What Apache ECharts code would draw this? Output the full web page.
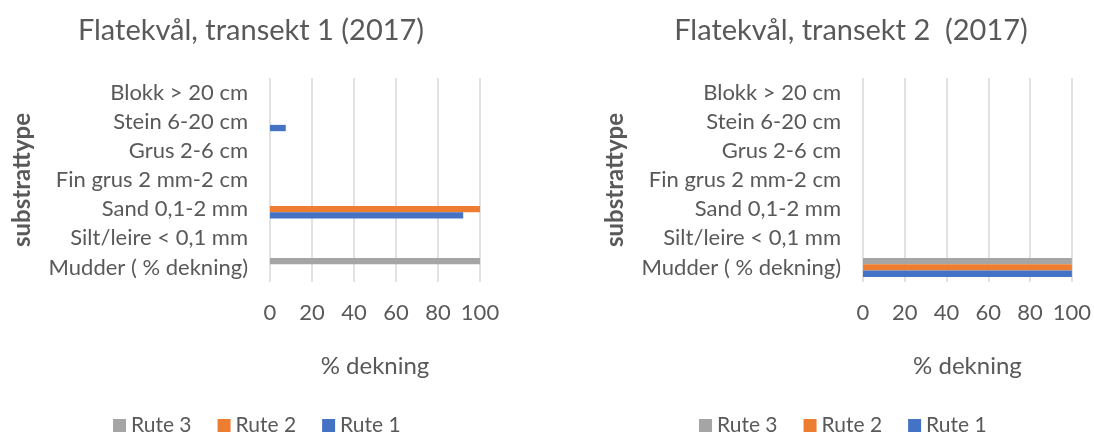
<!DOCTYPE html>
<html>
<head>
<meta charset="utf-8">
<script src="https://cdn.jsdelivr.net/npm/echarts@6/dist/echarts.min.js"></script>
<style>
html, body { margin: 0; padding: 0; background: #fff; }
#chart { width: 1094px; height: 434px; }
</style>
</head>
<body>
<div id="chart"></div>
<script>
let categories = ['Mudder ( % dekning)', 'Silt/leire < 0,1 mm', 'Sand 0,1-2 mm', 'Fin grus 2 mm-2 cm', 'Grus 2-6 cm', 'Stein 6-20 cm', 'Blokk > 20 cm'];
let xTicks = [0, 20, 40, 60, 80, 100];

// transekt 1
let t1Rute1 = [0, 0, 92, 0, 0, 7.5, 0];
let t1Rute2 = [0, 0, 100, 0, 0, 0, 0];
let t1Rute3 = [100, 0, 0, 0, 0, 0, 0];

// transekt 2
let t2Rute1 = [100, 0, 0, 0, 0, 0, 0];
let t2Rute2 = [100, 0, 0, 0, 0, 0, 0];
let t2Rute3 = [100, 0, 0, 0, 0, 0, 0];

let FONT = 'Lato';
let TXT = '#595959';
let colors = {'Rute 1': '#4472c4', 'Rute 2': '#ed7d31', 'Rute 3': '#a5a5a5'};

let myChart = echarts.init(document.getElementById('chart'));

function xAxisFor(gi) {
	return {
		type: 'value',
		gridIndex: gi,
		min: xTicks[0],
		max: xTicks[xTicks.length - 1],
		interval: 20,
		name: '% dekning',
		nameLocation: 'middle',
		nameGap: 72,
		nameTextStyle: { fontFamily: FONT, fontSize: 24, color: TXT },
		axisLine: { show: false },
		axisTick: { show: false },
		axisLabel: { fontFamily: FONT, fontSize: 22, color: TXT, margin: 20 },
		splitLine: { lineStyle: { color: '#d9d9d9', width: 1.5 } }
	};
}

function yAxisFor(gi) {
	return {
		type: 'category',
		gridIndex: gi,
		data: categories,
		name: 'substrattype',
		nameLocation: 'middle',
		nameGap: 236,
		nameRotate: 90,
		nameTextStyle: { fontFamily: FONT, fontSize: 24, fontWeight: 'bold', color: TXT },
		axisLine: { show: false },
		axisTick: { show: false },
		axisLabel: { fontFamily: FONT, fontSize: 22, color: TXT, margin: 22 },
		splitLine: { show: false }
	};
}

function barFor(name, gi, data) {
	return {
		name: name,
		type: 'bar',
		xAxisIndex: gi,
		yAxisIndex: gi,
		data: data,
		barGap: '0%',
		barCategoryGap: '35%',
		itemStyle: { color: colors[name] },
		silent: true
	};
}

let legendStyle = {
	data: ['Rute 3', 'Rute 2', 'Rute 1'],
	top: 410,
	itemWidth: 13,
	itemHeight: 13,
	itemGap: 26,
	icon: 'rect',
	textStyle: { fontFamily: FONT, fontSize: 21, color: TXT }
};

option = {
	animation: false,
	title: [
		{ text: 'Flatekvål, transekt 1 (2017)', left: 246, top: 11, textAlign: 'center',
			textStyle: { fontFamily: FONT, fontSize: 29, fontWeight: 'normal', color: TXT } },
		{ text: 'Flatekvål, transekt 2  (2017)', left: 846, top: 11, textAlign: 'center',
			textStyle: { fontFamily: FONT, fontSize: 29, fontWeight: 'normal', color: TXT } }
	],
	legend: [
		Object.assign({ left: 108 }, legendStyle),
		Object.assign({ left: 694 }, legendStyle)
	],
	grid: [
		{ left: 270, width: 210, top: 78, height: 204 },
		{ left: 863, width: 210, top: 78, height: 204 }
	],
	xAxis: [xAxisFor(0), xAxisFor(1)],
	yAxis: [yAxisFor(0), yAxisFor(1)],
	series: [
		barFor('Rute 3', 0, t1Rute3),
		barFor('Rute 2', 0, t1Rute2),
		barFor('Rute 1', 0, t1Rute1),
		barFor('Rute 3', 1, t2Rute3),
		barFor('Rute 2', 1, t2Rute2),
		barFor('Rute 1', 1, t2Rute1)
	]
};

myChart.setOption(option);
</script>
</body>
</html>
